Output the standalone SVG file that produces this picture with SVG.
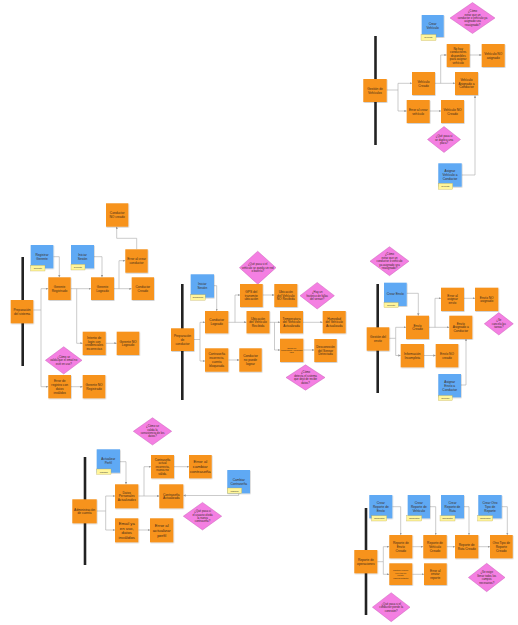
<svg xmlns="http://www.w3.org/2000/svg" width="518" height="625" viewBox="0 0 518 625">
<style>
.o{fill:#F7931E;filter:url(#sh)}
.b{fill:#5FA9F4;filter:url(#sh)}
.d{fill:#F47FE2;stroke:#C14FAE;stroke-width:0.4}
.t{fill:#FFF59A;stroke:#B5A44A;stroke-width:0.3}
.bar{stroke:#222;stroke-width:2.6;fill:none}
.c path{fill:none;stroke:#A8A8A8;stroke-width:0.6;marker-end:url(#ah)}
text{font-family:"Liberation Sans",Arial,sans-serif;fill:#3A2A1A;text-anchor:middle}
.tx{font-size:3.2px}
.tl{font-size:4.2px}
.ts{font-size:2.8px}
.tm{font-size:3px}
.tn{font-size:2px}
.tt{font-size:2.3px;fill:#333}
</style>
<defs>
<filter id="sh" x="-20%" y="-20%" width="140%" height="140%"><feDropShadow dx="0.5" dy="0.7" stdDeviation="0.4" flood-color="#000" flood-opacity="0.25"/></filter>
<marker id="ah" viewBox="0 0 6 6" refX="6" refY="3" markerWidth="2.4" markerHeight="2.4" markerUnits="userSpaceOnUse" orient="auto"><path d="M0 0L6 3L0 6z" fill="#999"/></marker>
</defs>
<rect width="518" height="625" fill="#fff"/>

<g id="bars">
<line class="bar" x1="375.5" y1="36" x2="375.5" y2="145"/>
<line class="bar" x1="22.7" y1="257" x2="22.7" y2="366"/>
<line class="bar" x1="182.3" y1="284" x2="182.3" y2="400"/>
<line class="bar" x1="377.7" y1="284" x2="377.7" y2="393"/>
<line class="bar" x1="85" y1="457" x2="85" y2="565"/>
<line class="bar" x1="366" y1="508" x2="366" y2="615"/>
</g>

<g id="connectors" class="c">
<path d="M386.7 90H398V83.3H412"/>
<path d="M398 90V111H406.7"/>
<path d="M435 83.3H455"/>
<path d="M440.7 83.3V55H446.7"/>
<path d="M469.3 55H481.7"/>
<path d="M429.7 111H441"/>
<path d="M461.7 175H475V95.5"/>

<path d="M33.3 310H41V288.7H48.3"/>
<path d="M41 310V386.7H48.3"/>
<path d="M53.3 256.7H59.3V277.3"/>
<path d="M94 256.7H102V277.3"/>
<path d="M70.7 288.7H91"/>
<path d="M76.7 288.7V343.3H82.7"/>
<path d="M114 288.7H131.7"/>
<path d="M119 288.7V260.7H125.3"/>
<path d="M136.7 249.3V238.3H116.7V226.7"/>
<path d="M105.7 343.3H116.7"/>
<path d="M71 386.7H82.7"/>

<path d="M214 285.7H216.7V311"/>
<path d="M194 339.5H200V322.3H205"/>
<path d="M200 339.5V361H205"/>
<path d="M228.3 322.3H246.5"/>
<path d="M235 322.3V295H240"/>
<path d="M262.7 295H274.3"/>
<path d="M269.5 322.3H280"/>
<path d="M274.5 322.3V350H280"/>
<path d="M303 322.3H322.7"/>
<path d="M303.3 350H314.3"/>
<path d="M228.3 360H239.3"/>

<path d="M406.7 293.3H418.3V315.7"/>
<path d="M389.3 338.3H395.7V327.3H406"/>
<path d="M395.7 338.3V355.5H400.7"/>
<path d="M429 327.3H449.3"/>
<path d="M435 327.3V298.3H441"/>
<path d="M464 298.3H475"/>
<path d="M424 355.5H435.7"/>
<path d="M461 385H466V339"/>

<path d="M120 461.7H126V484.3"/>
<path d="M96.7 511H105.7V496H115"/>
<path d="M105.7 511V530H115"/>
<path d="M138.3 496H159.3"/>
<path d="M144 496V466.7H151"/>
<path d="M174 466.7H189"/>
<path d="M238.7 493.3V495.5H183.3"/>
<path d="M138.3 530H150"/>

<path d="M392.3 506.7H400.7V535"/>
<path d="M430 506.7H435.7V535"/>
<path d="M464 506.7H469V535"/>
<path d="M501.7 506.7H507.3V535"/>
<path d="M377.3 561.7H383.3V546.7H389.3"/>
<path d="M383.3 561.7V574.3H389.3"/>
<path d="M412.3 546.7H423.3"/>
<path d="M446.7 546.7H455"/>
<path d="M478.3 546.7H490"/>
<path d="M412.3 574.3H424"/>
</g>

<!-- Section: Gestión de Vehículos -->
<g id="n_crear_vehiculo"><rect class="b" x="421.7" y="15" width="22" height="22"/><text class="tx" y="25.2"><tspan x="432.7">Crear</tspan><tspan x="432.7" dy="3.8">Vehículo</tspan></text><rect class="t" x="421" y="34.5" width="15" height="6"/><text class="tt" x="428.5" y="38.3">Gerente</text></g>
<g id="d_evitar1"><polygon class="d" points="472.5,2.5 495,18 472.5,33.5 450,18"/><text class="ts" y="12.2"><tspan x="472.5">¿Cómo</tspan><tspan x="472.5" dy="3.4">evitar que un</tspan><tspan x="472.5" dy="3.4">conductor o vehículo ya</tspan><tspan x="472.5" dy="3.4">asignado sea</tspan><tspan x="472.5" dy="3.4">reasignado?</tspan></text></g>
<g id="n_no_hay"><rect class="o" x="446.7" y="44" width="23" height="23"/><text class="tm" y="49.5"><tspan x="458.2">No hay</tspan><tspan x="458.2" dy="3.5">conductores</tspan><tspan x="458.2" dy="3.5">disponibles</tspan><tspan x="458.2" dy="3.5">para asignar</tspan><tspan x="458.2" dy="3.5">vehículo</tspan></text></g>
<g id="n_veh_no_asignado"><rect class="o" x="481.7" y="44" width="23" height="23"/><text class="tx" y="54.7"><tspan x="493.2">Vehículo NO</tspan><tspan x="493.2" dy="3.8">asignado</tspan></text></g>
<g id="n_gestion_veh"><rect class="o" x="363.3" y="79" width="23.4" height="23"/><text class="tx" y="89.7"><tspan x="375">Gestión de</tspan><tspan x="375" dy="3.8">Vehículos</tspan></text></g>
<g id="n_veh_creado"><rect class="o" x="412" y="72" width="23" height="23"/><text class="tx" y="82.7"><tspan x="423.5">Vehículo</tspan><tspan x="423.5" dy="3.8">Creado</tspan></text></g>
<g id="n_veh_asignado"><rect class="o" x="455" y="72" width="23" height="23"/><text class="tx" y="80.8"><tspan x="466.5">Vehículo</tspan><tspan x="466.5" dy="3.8">Asignado a</tspan><tspan x="466.5" dy="3.8">Conductor</tspan></text></g>
<g id="n_error_crear_veh"><rect class="o" x="406.7" y="100" width="23" height="23"/><text class="tx" y="110.7"><tspan x="418.2">Error al crear</tspan><tspan x="418.2" dy="3.8">vehículo</tspan></text></g>
<g id="n_veh_no_creado"><rect class="o" x="441" y="100" width="23" height="23"/><text class="tx" y="110.7"><tspan x="452.5">Vehículo NO</tspan><tspan x="452.5" dy="3.8">Creado</tspan></text></g>
<g id="d_placa"><polygon class="d" points="444,126.5 460.5,139.5 444,152.5 427.5,139.5"/><text class="ts" y="137.1"><tspan x="444">¿Qué pasa si</tspan><tspan x="444" dy="3.4">se duplica una</tspan><tspan x="444" dy="3.4">placa?</tspan></text></g>
<g id="n_asignar_veh"><rect class="b" x="438.3" y="163.3" width="23.4" height="23.4"/><text class="tx" y="172.3"><tspan x="450">Asignar</tspan><tspan x="450" dy="3.8">Vehículo a</tspan><tspan x="450" dy="3.8">Conductor</tspan></text><rect class="t" x="438.3" y="183.3" width="14.4" height="6"/><text class="tt" x="445.5" y="187.1">Gerente</text></g>

<!-- Section: Preparación del sistema -->
<g id="n_conductor_no_creado"><rect class="o" x="106" y="203.3" width="22.3" height="23.4"/><text class="tx" y="214.2"><tspan x="117.2">Conductor</tspan><tspan x="117.2" dy="3.8">NO creado</tspan></text></g>
<g id="n_registrar_gerente"><rect class="b" x="30.7" y="245" width="22.6" height="23.3"/><text class="tx" y="255.9"><tspan x="42">Registrar</tspan><tspan x="42" dy="3.8">Gerente</tspan></text><rect class="t" x="30.7" y="265.3" width="14.3" height="5.7"/><text class="tt" x="37.8" y="269">Gerente</text></g>
<g id="n_iniciar_sesion_g"><rect class="b" x="71" y="245" width="23" height="23.3"/><text class="tx" y="255.9"><tspan x="82.5">Iniciar</tspan><tspan x="82.5" dy="3.8">Sesión</tspan></text><rect class="t" x="71" y="264.3" width="14" height="5.7"/><text class="tt" x="78" y="268">Gerente</text></g>
<g id="n_error_crear_cond"><rect class="o" x="125.3" y="249.3" width="22.4" height="23.4"/><text class="tx" y="260.2"><tspan x="136.5">Error al crear</tspan><tspan x="136.5" dy="3.8">conductor</tspan></text></g>
<g id="n_gerente_registrado"><rect class="o" x="48.3" y="277.3" width="22.4" height="22.7"/><text class="tx" y="287.9"><tspan x="59.5">Gerente</tspan><tspan x="59.5" dy="3.8">Registrado</tspan></text></g>
<g id="n_gerente_logeado"><rect class="o" x="91" y="277.3" width="23" height="22.7"/><text class="tx" y="287.9"><tspan x="102.5">Gerente</tspan><tspan x="102.5" dy="3.8">Logeado</tspan></text></g>
<g id="n_conductor_creado"><rect class="o" x="131.7" y="277.3" width="22.3" height="22.7"/><text class="tx" y="287.9"><tspan x="142.8">Conductor</tspan><tspan x="142.8" dy="3.8">Creado</tspan></text></g>
<g id="n_prep_sistema"><rect class="o" x="10.7" y="300" width="22.6" height="23.3"/><text class="tx" y="310.9"><tspan x="22">Preparación</tspan><tspan x="22" dy="3.8">del sistema</tspan></text></g>
<g id="n_intento_login"><rect class="o" x="82.7" y="331.7" width="23" height="23.3"/><text class="tx" y="338.7"><tspan x="94.2">Intento de</tspan><tspan x="94.2" dy="3.8">login con</tspan><tspan x="94.2" dy="3.8">credenciales</tspan><tspan x="94.2" dy="3.8">incorrectas</tspan></text></g>
<g id="n_gerente_no_logeado"><rect class="o" x="116.7" y="331.7" width="22.6" height="23.3"/><text class="tx" y="342.5"><tspan x="128">Gerente NO</tspan><tspan x="128" dy="3.8">Logeado</tspan></text></g>
<g id="d_email"><polygon class="d" points="63.7,346.7 82,360.3 63.7,374 45.4,360.3"/><text class="ts" y="357.9"><tspan x="63.7">¿Cómo se</tspan><tspan x="63.7" dy="3.4">valida que el email no</tspan><tspan x="63.7" dy="3.4">esté en uso?</tspan></text></g>
<g id="n_error_registro"><rect class="o" x="48.3" y="375" width="22.7" height="23.3"/><text class="tx" y="382.1"><tspan x="59.7">Error de</tspan><tspan x="59.7" dy="3.8">registro con</tspan><tspan x="59.7" dy="3.8">datos</tspan><tspan x="59.7" dy="3.8">inválidos</tspan></text></g>
<g id="n_gerente_no_registrado"><rect class="o" x="82.7" y="375" width="22.6" height="23.3"/><text class="tx" y="385.9"><tspan x="94">Gerente NO</tspan><tspan x="94" dy="3.8">Registrado</tspan></text></g>

<!-- Section: Preparación de conductor -->
<g id="d_red"><polygon class="d" points="257.7,251.2 276,267.7 257.7,284.2 239.4,267.7"/><text class="ts" y="265.3"><tspan x="257.7">¿Qué pasa si el</tspan><tspan x="257.7" dy="3.4">vehículo se queda sin red</tspan><tspan x="257.7" dy="3.4">o batería?</tspan></text></g>
<g id="n_iniciar_sesion_c"><rect class="b" x="190.7" y="274.3" width="23.3" height="23.3"/><text class="tx" y="285.2"><tspan x="202.3">Iniciar</tspan><tspan x="202.3" dy="3.8">Sesión</tspan></text><rect class="t" x="190.7" y="294.7" width="14.5" height="5.5"/><text class="tt" x="197.9" y="298.3">Conductor</text></g>
<g id="n_gps"><rect class="o" x="240" y="284" width="22.7" height="23"/><text class="tx" y="292.8"><tspan x="251.3">GPS del</tspan><tspan x="251.3" dy="3.8">transmite</tspan><tspan x="251.3" dy="3.8">ubicación</tspan></text></g>
<g id="n_ubic_no_recibida"><rect class="o" x="274.3" y="284" width="23" height="23"/><text class="tx" y="292.8"><tspan x="285.8">Ubicación</tspan><tspan x="285.8" dy="3.8">del Vehículo</tspan><tspan x="285.8" dy="3.8">NO Recibida</tspan></text></g>
<g id="d_hist"><polygon class="d" points="317.2,282.4 334.4,295.7 317.2,309 300,295.7"/><text class="ts" y="293.3"><tspan x="317.2">¿Hay un</tspan><tspan x="317.2" dy="3.4">histórico de fallas</tspan><tspan x="317.2" dy="3.4">del sensor?</tspan></text></g>
<g id="n_conductor_logeado"><rect class="o" x="205" y="311" width="23.3" height="22.3"/><text class="tx" y="321.4"><tspan x="216.7">Conductor</tspan><tspan x="216.7" dy="3.8">Logeado</tspan></text></g>
<g id="n_ubic_recibida"><rect class="o" x="246.5" y="311" width="23" height="22.3"/><text class="tx" y="319.5"><tspan x="258">Ubicación</tspan><tspan x="258" dy="3.8">del Vehículo</tspan><tspan x="258" dy="3.8">Recibida</tspan></text></g>
<g id="n_temp"><rect class="o" x="280" y="311" width="23" height="22.3"/><text class="tx" y="319.5"><tspan x="291.5">Temperatura</tspan><tspan x="291.5" dy="3.8">del Vehículo</tspan><tspan x="291.5" dy="3.8">Actualizada</tspan></text></g>
<g id="n_hum"><rect class="o" x="322.7" y="311" width="23" height="22.3"/><text class="tx" y="319.5"><tspan x="334.2">Humedad</tspan><tspan x="334.2" dy="3.8">del Vehículo</tspan><tspan x="334.2" dy="3.8">Actualizada</tspan></text></g>
<g id="n_prep_conductor"><rect class="o" x="171" y="328.3" width="23" height="22.7"/><text class="tx" y="337"><tspan x="182.5">Preparación</tspan><tspan x="182.5" dy="3.8">de</tspan><tspan x="182.5" dy="3.8">conductor</tspan></text></g>
<g id="n_contrasena_bloq"><rect class="o" x="205" y="348.3" width="23.3" height="23.4"/><text class="tx" y="355.4"><tspan x="216.7">Contraseña</tspan><tspan x="216.7" dy="3.8">incorrecta,</tspan><tspan x="216.7" dy="3.8">cuenta</tspan><tspan x="216.7" dy="3.8">bloqueada</tspan></text></g>
<g id="n_no_logear"><rect class="o" x="239.3" y="348.3" width="22.4" height="23.4"/><text class="tx" y="357.3"><tspan x="250.5">Conductor</tspan><tspan x="250.5" dy="3.8">no puede</tspan><tspan x="250.5" dy="3.8">logear</tspan></text></g>
<g id="n_sensor_falla"><rect class="o" x="280" y="338.7" width="23.3" height="23.3"/><text class="tn" y="348.7"><tspan x="291.7">Sensor de</tspan><tspan x="291.7" dy="2.2">temperatura y humedad</tspan><tspan x="291.7" dy="2.2">falla</tspan></text></g>
<g id="n_desconexion"><rect class="o" x="314.3" y="339" width="22.4" height="23"/><text class="tx" y="347.8"><tspan x="325.5">Desconexión</tspan><tspan x="325.5" dy="3.8">del Sensor</tspan><tspan x="325.5" dy="3.8">Detectada</tspan></text></g>
<g id="d_detecta"><polygon class="d" points="305.5,364.8 325,377.5 305.5,390.2 286,377.5"/><text class="ts" y="373.4"><tspan x="305.5">¿Cómo</tspan><tspan x="305.5" dy="3.4">detecta el sistema</tspan><tspan x="305.5" dy="3.4">que dejó de recibir</tspan><tspan x="305.5" dy="3.4">datos?</tspan></text></g>

<!-- Section: Gestión del envío -->
<g id="d_evitar2"><polygon class="d" points="389.5,246.7 409,261.2 389.5,275.7 370,261.2"/><text class="ts" y="255.4"><tspan x="389.5">¿Cómo</tspan><tspan x="389.5" dy="3.4">evitar que un</tspan><tspan x="389.5" dy="3.4">conductor o vehículo</tspan><tspan x="389.5" dy="3.4">ya asignado sea</tspan><tspan x="389.5" dy="3.4">reasignado?</tspan></text></g>
<g id="n_crear_envio"><rect class="b" x="384" y="282.7" width="22.7" height="23.3"/><text class="tx" x="395.3" y="295.4">Crear Envío</text><rect class="t" x="384" y="302.5" width="14.3" height="5"/><text class="tt" x="391.1" y="305.8">Gerente</text></g>
<g id="n_error_asignar"><rect class="o" x="441" y="287.7" width="23" height="23.3"/><text class="tx" y="296.6"><tspan x="452.5">Error al</tspan><tspan x="452.5" dy="3.8">asignar</tspan><tspan x="452.5" dy="3.8">envío</tspan></text></g>
<g id="n_envio_no_asignado"><rect class="o" x="475" y="287.7" width="23.3" height="23.3"/><text class="tx" y="298.5"><tspan x="486.7">Envío NO</tspan><tspan x="486.7" dy="3.8">asignado</tspan></text></g>
<g id="n_envio_creado"><rect class="o" x="406" y="315.7" width="23" height="23.3"/><text class="tx" y="326.5"><tspan x="417.5">Envío</tspan><tspan x="417.5" dy="3.8">Creado</tspan></text></g>
<g id="n_envio_asignado"><rect class="o" x="449.3" y="315.7" width="23" height="23.3"/><text class="tx" y="324.6"><tspan x="460.8">Envío</tspan><tspan x="460.8" dy="3.8">Asignado a</tspan><tspan x="460.8" dy="3.8">Conductor</tspan></text></g>
<g id="d_cancela"><polygon class="d" points="498.8,312.6 513.3,323.8 498.8,335 484.3,323.8"/><text class="ts" y="321.4"><tspan x="498.8">¿Se</tspan><tspan x="498.8" dy="3.4">cancela las</tspan><tspan x="498.8" dy="3.4">tareas?</tspan></text></g>
<g id="n_gestion_envio"><rect class="o" x="366.7" y="327.3" width="22.6" height="23.4"/><text class="tx" y="338.2"><tspan x="378">Gestión del</tspan><tspan x="378" dy="3.8">envío</tspan></text></g>
<g id="n_info_incompleta"><rect class="o" x="400.7" y="344" width="23.3" height="23.3"/><text class="tx" y="354.9"><tspan x="412.3">Información</tspan><tspan x="412.3" dy="3.8">Incompleta</tspan></text></g>
<g id="n_envio_no_creado"><rect class="o" x="435.7" y="344" width="22.6" height="23.3"/><text class="tx" y="354.9"><tspan x="447">Envío NO</tspan><tspan x="447" dy="3.8">creado</tspan></text></g>
<g id="n_asignar_envio"><rect class="b" x="438.3" y="374" width="22.7" height="23.3"/><text class="tx" y="383"><tspan x="449.7">Asignar</tspan><tspan x="449.7" dy="3.8">Envío a</tspan><tspan x="449.7" dy="3.8">Conductor</tspan></text><rect class="t" x="438.3" y="395.5" width="14" height="5"/><text class="tt" x="445.3" y="398.8">Gerente</text></g>

<!-- Section: Administración de cuenta -->
<g id="d_consist"><polygon class="d" points="152.5,417.7 171.7,431.3 152.5,445 133.3,431.3"/><text class="ts" y="427.2"><tspan x="152.5">¿Cómo se</tspan><tspan x="152.5" dy="3.4">valida la</tspan><tspan x="152.5" dy="3.4">consistencia de los</tspan><tspan x="152.5" dy="3.4">datos?</tspan></text></g>
<g id="n_actualizar_perfil"><rect class="b" x="96.7" y="449.3" width="23.3" height="23.4"/><text class="tx" y="460.2"><tspan x="108.3">Actualizar</tspan><tspan x="108.3" dy="3.8">Perfil</tspan></text><rect class="t" x="96.7" y="469" width="14.3" height="5.3"/><text class="tt" x="103.8" y="472.5">Usuario</text></g>
<g id="n_contra_incorrecta"><rect class="o" x="151" y="455" width="23" height="23.3"/><text class="tm" y="460.7"><tspan x="162.5">Contraseña</tspan><tspan x="162.5" dy="3.5">actual</tspan><tspan x="162.5" dy="3.5">incorrecta,</tspan><tspan x="162.5" dy="3.5">nueva no</tspan><tspan x="162.5" dy="3.5">válida.</tspan></text></g>
<g id="n_error_cambiar"><rect class="o" x="189" y="455" width="22.7" height="23.3"/><text class="tl" y="463.4"><tspan x="200.3">Error al</tspan><tspan x="200.3" dy="4.8">cambiar</tspan><tspan x="200.3" dy="4.8">contraseña</tspan></text></g>
<g id="n_cambiar_contra"><rect class="b" x="227.3" y="470" width="22.7" height="23.3"/><text class="tx" y="480.9"><tspan x="238.7">Cambiar</tspan><tspan x="238.7" dy="3.8">Contraseña</tspan></text><rect class="t" x="227.3" y="488" width="14.4" height="5.3"/><text class="tt" x="234.5" y="491.5">Usuario</text></g>
<g id="n_datos_act"><rect class="o" x="115" y="484.3" width="23.3" height="24"/><text class="tx" y="493.6"><tspan x="126.7">Datos</tspan><tspan x="126.7" dy="3.8">Personales</tspan><tspan x="126.7" dy="3.8">Actualizados</tspan></text></g>
<g id="n_contra_act"><rect class="o" x="159.3" y="484.3" width="24" height="24"/><text class="tx" y="495.5"><tspan x="171.3">Contraseña</tspan><tspan x="171.3" dy="3.8">Actualizada</tspan></text></g>
<g id="n_admin"><rect class="o" x="72.3" y="499.3" width="24.4" height="24"/><text class="tx" y="510.5"><tspan x="84.5">Administración</tspan><tspan x="84.5" dy="3.8">de cuenta</tspan></text></g>
<g id="d_olvida"><polygon class="d" points="202.5,502.4 221.7,516.2 202.5,530 183.3,516.2"/><text class="ts" y="512.1"><tspan x="202.5">¿Qué pasa si</tspan><tspan x="202.5" dy="3.4">el usuario olvida</tspan><tspan x="202.5" dy="3.4">la nueva</tspan><tspan x="202.5" dy="3.4">contraseña?</tspan></text></g>
<g id="n_email_uso"><rect class="o" x="115" y="518.3" width="23.3" height="24"/><text class="tl" y="524.9"><tspan x="126.7">Email ya</tspan><tspan x="126.7" dy="4.6">en uso,</tspan><tspan x="126.7" dy="4.6">datos</tspan><tspan x="126.7" dy="4.6">inválidos</tspan></text></g>
<g id="n_error_actualizar"><rect class="o" x="150" y="518.3" width="23.3" height="24"/><text class="tl" y="527"><tspan x="161.7">Error al</tspan><tspan x="161.7" dy="4.8">actualizar</tspan><tspan x="161.7" dy="4.8">perfil</tspan></text></g>

<!-- Section: Reporte de operaciones -->
<g id="n_crear_rep_envio"><rect class="b" x="369.3" y="495" width="23" height="23.3"/><text class="tx" y="504"><tspan x="380.8">Crear</tspan><tspan x="380.8" dy="3.8">Reporte de</tspan><tspan x="380.8" dy="3.8">Envío</tspan></text><rect class="t" x="371.7" y="515.7" width="15" height="5.3"/><text class="tt" x="379.2" y="519.2">Conductor</text></g>
<g id="n_crear_rep_veh"><rect class="b" x="407.7" y="495" width="22.3" height="23.3"/><text class="tx" y="504"><tspan x="418.8">Crear</tspan><tspan x="418.8" dy="3.8">Reporte de</tspan><tspan x="418.8" dy="3.8">Vehículo</tspan></text><rect class="t" x="406.7" y="515.7" width="15" height="5.3"/><text class="tt" x="414.2" y="519.2">Conductor</text></g>
<g id="n_crear_rep_ruta"><rect class="b" x="441" y="495" width="23" height="23.3"/><text class="tx" y="504"><tspan x="452.5">Crear</tspan><tspan x="452.5" dy="3.8">Reporte de</tspan><tspan x="452.5" dy="3.8">Ruta</tspan></text><rect class="t" x="440" y="515.7" width="15" height="5.3"/><text class="tt" x="447.5" y="519.2">Conductor</text></g>
<g id="n_crear_otro"><rect class="b" x="478.3" y="495" width="23.4" height="23.3"/><text class="tx" y="504"><tspan x="490">Crear Otro</tspan><tspan x="490" dy="3.8">Tipo de</tspan><tspan x="490" dy="3.8">Reporte</tspan></text><rect class="t" x="477.7" y="515.7" width="15" height="5.3"/><text class="tt" x="485.2" y="519.2">Conductor</text></g>
<g id="n_rep_envio_creado"><rect class="o" x="389.3" y="535" width="23" height="23.3"/><text class="tx" y="544"><tspan x="400.8">Reporte de</tspan><tspan x="400.8" dy="3.8">Envío</tspan><tspan x="400.8" dy="3.8">Creado</tspan></text></g>
<g id="n_rep_veh_creado"><rect class="o" x="423.3" y="535" width="23.4" height="23.3"/><text class="tx" y="544"><tspan x="435">Reporte de</tspan><tspan x="435" dy="3.8">Vehículo</tspan><tspan x="435" dy="3.8">Creado</tspan></text></g>
<g id="n_rep_ruta_creado"><rect class="o" x="455" y="535" width="23.3" height="23.3"/><text class="tx" y="545.9"><tspan x="466.7">Reporte de</tspan><tspan x="466.7" dy="3.8">Ruta Creado</tspan></text></g>
<g id="n_otro_creado"><rect class="o" x="490" y="535" width="22.7" height="23.3"/><text class="tx" y="544"><tspan x="501.3">Otro Tipo de</tspan><tspan x="501.3" dy="3.8">Reporte</tspan><tspan x="501.3" dy="3.8">Creado</tspan></text></g>
<g id="n_rep_oper"><rect class="o" x="354.3" y="550" width="23" height="23.3"/><text class="tx" y="560.9"><tspan x="365.8">Reporte de</tspan><tspan x="365.8" dy="3.8">operaciones</tspan></text></g>
<g id="n_contiene_err"><rect class="o" x="389.3" y="563.3" width="23" height="21.7"/><text class="tn" y="571.2"><tspan x="400.8">Contiene errores,</tspan><tspan x="400.8" dy="2.5">en el tipo de</tspan><tspan x="400.8" dy="2.5">reporte,</tspan><tspan x="400.8" dy="2.5">campos faltantes</tspan></text></g>
<g id="n_error_enviar"><rect class="o" x="424" y="563.3" width="22.7" height="21.7"/><text class="tx" y="571.5"><tspan x="435.3">Error al</tspan><tspan x="435.3" dy="3.8">enviar</tspan><tspan x="435.3" dy="3.8">reporte</tspan></text></g>
<g id="d_exige"><polygon class="d" points="486.7,563.3 505,577.5 486.7,591.7 468.4,577.5"/><text class="ts" y="573.4"><tspan x="486.7">¿Se exige</tspan><tspan x="486.7" dy="3.4">llenar todos los</tspan><tspan x="486.7" dy="3.4">campos</tspan><tspan x="486.7" dy="3.4">necesarios?</tspan></text></g>
<g id="d_conexion"><polygon class="d" points="391.2,592.7 410,607.2 391.2,621.7 372.4,607.2"/><text class="ts" y="604.8"><tspan x="391.2">¿Qué pasa si el</tspan><tspan x="391.2" dy="3.4">conductor pierde la</tspan><tspan x="391.2" dy="3.4">conexión?</tspan></text></g>
</svg>
